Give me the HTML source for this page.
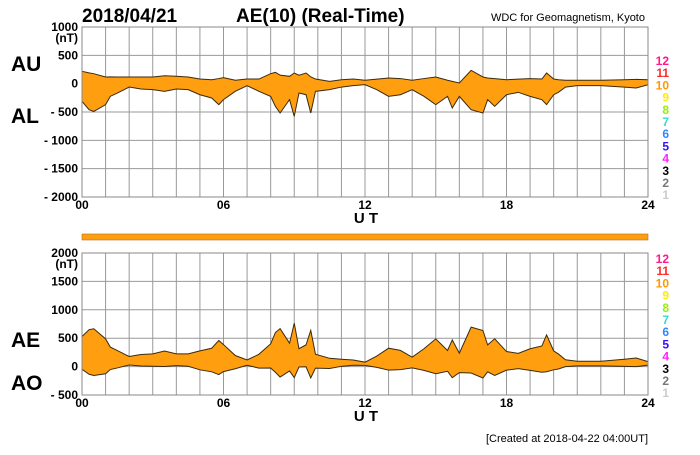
<!DOCTYPE html>
<html><head><meta charset="utf-8">
<style>
body{margin:0;background:#fff;width:700px;height:450px;overflow:hidden;font-family:"Liberation Sans",Arial,sans-serif;}
svg text{font-family:"Liberation Sans",Arial,sans-serif;}
</style></head>
<body>
<svg id="chart" width="700" height="450" viewBox="0 0 700 450" xmlns="http://www.w3.org/2000/svg">
<text x="82" y="22" font-size="19" font-weight="bold">2018/04/21</text>
<text x="236" y="22" font-size="19" font-weight="bold">AE(10) (Real-Time)</text>
<text x="645" y="21" font-size="11" text-anchor="end">WDC for Geomagnetism, Kyoto</text>
<text x="11" y="71" font-size="21" font-weight="bold">AU</text>
<text x="11" y="123" font-size="21" font-weight="bold">AL</text>
<text x="11" y="347" font-size="21" font-weight="bold">AE</text>
<text x="11" y="390" font-size="21" font-weight="bold">AO</text>
<text x="648" y="442" font-size="11" text-anchor="end">[Created at 2018-04-22 04:00UT]</text>
<g id="top"></g><g id="bot"></g>
</svg>
<script>
const hours=[0,0.3,0.5,1,1.2,1.5,2,2.5,3,3.5,4,4.5,5,5.5,5.8,6,6.5,7,7.5,8,8.2,8.4,8.8,9,9.2,9.5,9.7,9.9,10.5,11,11.5,12,12.5,13,13.5,14,14.5,15,15.5,15.7,16,16.5,17,17.2,17.5,18,18.5,19,19.5,19.7,20,20.2,20.5,21,22,23,23.5,24];
const auValues=[218,190,176,118,120,118,118,118,118,140,130,118,82,70,90,106,60,82,82,176,200,150,130,188,150,188,120,82,40,70,82,60,80,100,90,60,90,118,60,40,12,235,118,100,90,70,80,90,82,188,82,70,60,60,60,70,75,70];
const alValues=[-312,-460,-490,-370,-224,-165,-60,-95,-106,-135,-95,-106,-195,-253,-370,-282,-135,-35,-135,-224,-400,-518,-282,-576,-165,-195,-518,-135,-106,-60,-35,-18,-106,-224,-195,-106,-224,-370,-224,-430,-224,-460,-518,-282,-400,-195,-153,-224,-282,-370,-195,-153,-60,-35,-35,-60,-76,-18];
const aeValues=auValues.map((u,i)=>u-alValues[i]);
const aoValues=auValues.map((u,i)=>(u+alValues[i])/2);
const xTicks=["00","06","12","18","24"];
const topYTicks=[1000,500,0,-500,-1000,-1500,-2000];
const botYTicks=[2000,1500,1000,500,0,-500];
const legendNums=["12","11","10","9","8","7","6","5","4","3","2","1"];
const legendColors=["#ff1a8c","#ff2a2a","#ff9900","#ffee00","#99ee11","#33ddcc","#2f88ff","#3311ff","#ff22ff","#000000","#777777","#cccccc"];
const NS="http://www.w3.org/2000/svg";
const X0=82,X1=648;
function xs(h){return X0+(X1-X0)*h/24;}
function el(tag,attrs,parent){const e=document.createElementNS(NS,tag);for(const k in attrs)e.setAttribute(k,attrs[k]);parent.appendChild(e);return e;}
function panel(g,yTop,yBot,vmax,vmin,ticks,upper,lower,name,legY){
  const ys=v=>yTop+(vmax-v)/(vmax-vmin)*(yBot-yTop);
  for(let h=0;h<=24;h++){const l=el('line',{x1:xs(h),x2:xs(h),y1:yTop,y2:yBot,stroke:'#999','stroke-width':1},g);
  }
  ticks.forEach((t,i)=>{const y=ys(t);
    const l=el('line',{x1:X0,x2:X1,y1:y,y2:y,stroke:'#999','stroke-width':1},g);
    
    const s=t<0?'- '+(-t):String(t);
    const tx=el('text',{x:78,y:y+4,'font-size':12,'font-weight':'bold','text-anchor':'end'},g);tx.textContent=s;
    
    if(i===0){const u=el('text',{x:78,y:y+15,'font-size':12,'font-weight':'bold','text-anchor':'end'},g);u.textContent='(nT)';
      }
  });
  let d='M'+hours.map((h,i)=>xs(h)+','+ys(upper[i])).join('L');
  for(let i=hours.length-1;i>=0;i--)d+='L'+xs(hours[i])+','+ys(lower[i]);
  const a=el('path',{d:d+'Z',fill:'#ff9f10',stroke:'#3a2a10','stroke-width':1},g);
  
  const b=el('rect',{x:X0,y:yTop,width:X1-X0,height:yBot-yTop,fill:'none',stroke:'#888'},g);
  
  xTicks.forEach((t,i)=>{const tx=el('text',{x:xs(i*6),y:yBot+12,'font-size':12,'font-weight':'bold','text-anchor':'middle'},g);tx.textContent=t;
    });
  const ut=el('text',{x:366,y:yBot+26,'font-size':15,'font-weight':'bold','text-anchor':'middle'},g);ut.textContent='U T';
  
  legendNums.forEach((n,i)=>{const tx=el('text',{x:669,y:legY+i*12.2,'font-size':12,'font-weight':'bold','text-anchor':'end',fill:legendColors[i]},g);tx.textContent=n;
    });
}
panel(document.getElementById('top'),27,197,1000,-2000,topYTicks,auValues,alValues,'au-al-area',65);
panel(document.getElementById('bot'),253,395,2000,-500,botYTicks,aeValues,aoValues,'ae-ao-area',263);
const bar=el('rect',{x:X0,y:234,width:X1-X0,height:6,fill:'#ff9f10',stroke:'#b07020','stroke-width':0.6},document.getElementById('bot'));


</script>
</body></html>
